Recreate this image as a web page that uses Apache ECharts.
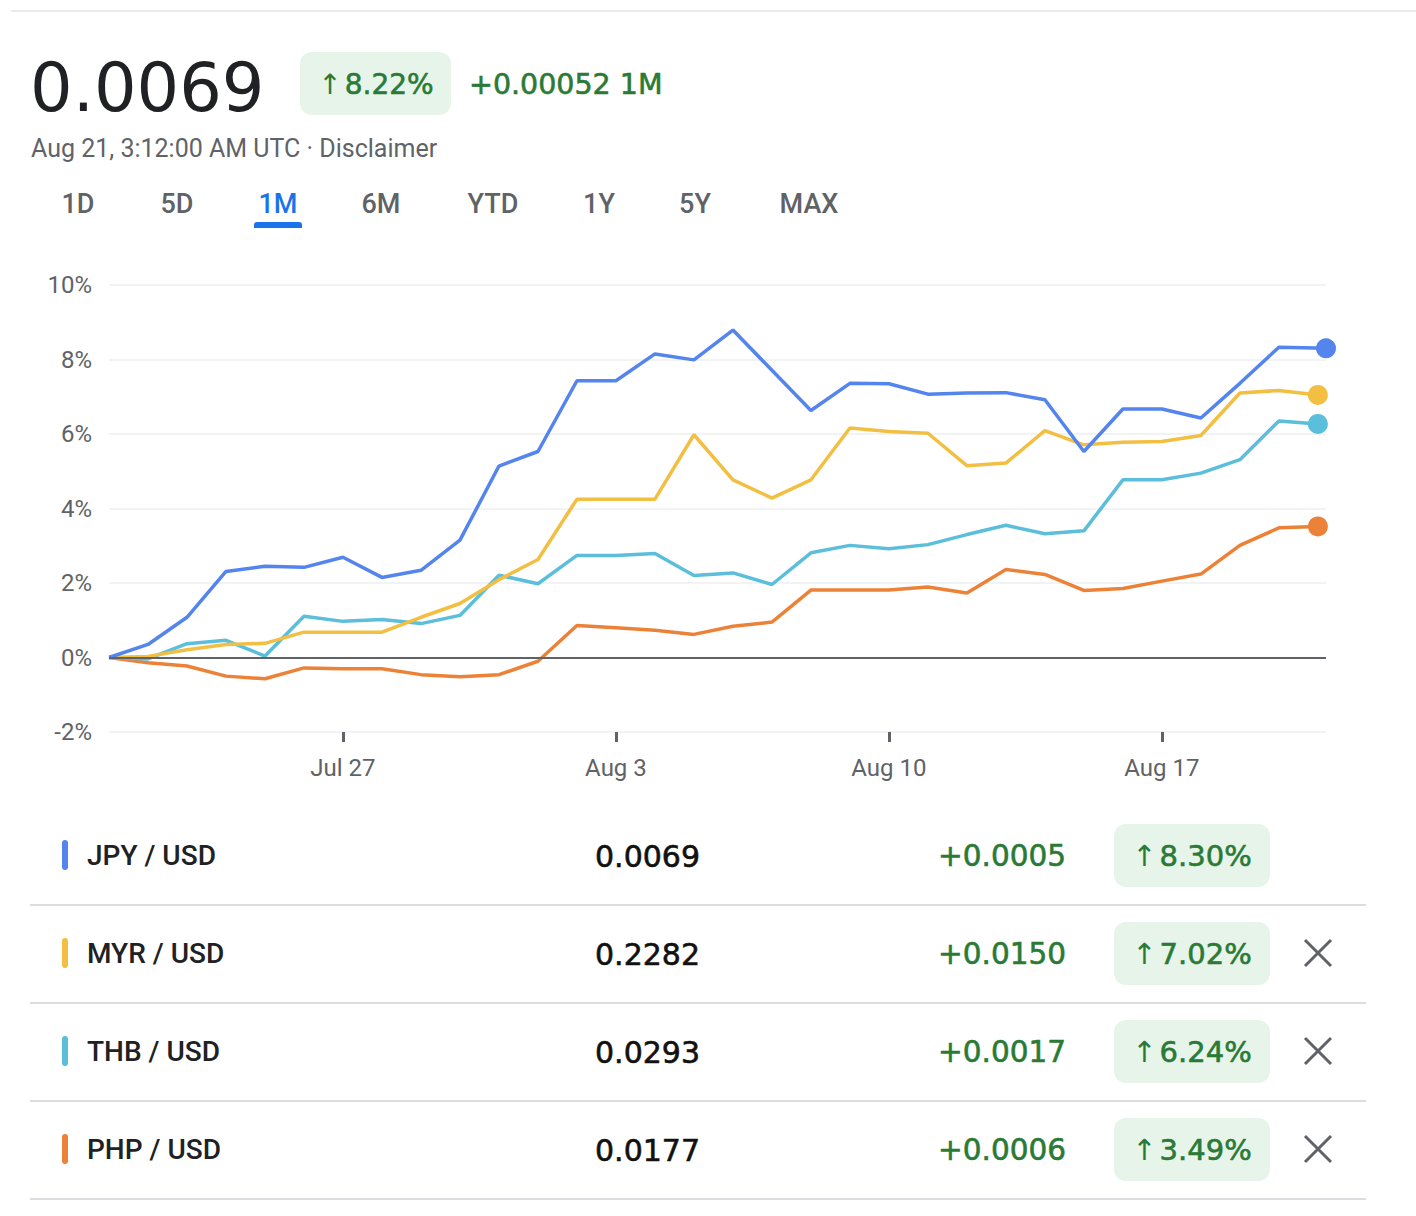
<!DOCTYPE html>
<html>
<head>
<meta charset="utf-8">
<title>JPY / USD</title>
<script src="https://cdn.jsdelivr.net/npm/echarts@6/dist/echarts.min.js"></script>
<style>
  html, body { margin: 0; padding: 0; background: #fff; }
  #main { width: 1416px; height: 1216px; }
</style>
</head>
<body>
<div id="main"></div>
<script>
// one point per day, Jul 21 -> Aug 21
const dates = [
  '2024-07-21', '2024-07-22', '2024-07-23', '2024-07-24', '2024-07-25', '2024-07-26',
  '2024-07-27', '2024-07-28', '2024-07-29', '2024-07-30', '2024-07-31', '2024-08-01',
  '2024-08-02', '2024-08-03', '2024-08-04', '2024-08-05', '2024-08-06', '2024-08-07',
  '2024-08-08', '2024-08-09', '2024-08-10', '2024-08-11', '2024-08-12', '2024-08-13',
  '2024-08-14', '2024-08-15', '2024-08-16', '2024-08-17', '2024-08-18', '2024-08-19',
  '2024-08-20', '2024-08-21'
];
// JPY has a later last quote than the others
const jpyLastTime = '2024-08-21T05:00:00Z';

const tickDates = ['2024-07-27', '2024-08-03', '2024-08-10', '2024-08-17'];
const tickLabels = ['Jul 27', 'Aug 3', 'Aug 10', 'Aug 17'];

// % change since Jul 21
const jpy = [0, 0.35, 1.08, 2.31, 2.45, 2.42, 2.69, 2.15, 2.34, 3.15, 5.14, 5.53, 7.43, 7.43, 8.15, 7.99,
  8.79, 7.71, 6.63, 7.36, 7.35, 7.07, 7.10, 7.11, 6.92, 5.53, 6.67, 6.67, 6.43, 7.36, 8.33, 8.30];
const myr = [0, 0.03, 0.21, 0.35, 0.38, 0.68, 0.68, 0.68, 1.08, 1.45, 2.09, 2.63, 4.25, 4.25, 4.25, 5.98,
  4.77, 4.28, 4.77, 6.16, 6.07, 6.02, 5.15, 5.22, 6.09, 5.71, 5.78, 5.80, 5.96, 7.10, 7.17, 7.05];
const thb = [0, -0.04, 0.37, 0.46, 0.04, 1.11, 0.97, 1.02, 0.91, 1.13, 2.21, 1.98, 2.74, 2.74, 2.79, 2.20,
  2.27, 1.96, 2.81, 3.01, 2.92, 3.03, 3.30, 3.55, 3.32, 3.40, 4.77, 4.77, 4.95, 5.31, 6.35, 6.27];
const php = [0, -0.14, -0.23, -0.50, -0.57, -0.28, -0.30, -0.30, -0.46, -0.52, -0.46, -0.10, 0.86, 0.80, 0.73, 0.62,
  0.84, 0.95, 1.81, 1.81, 1.81, 1.89, 1.73, 2.36, 2.23, 1.80, 1.85, 2.05, 2.24, 3.01, 3.48, 3.52];

const yTicks = [-2, 0, 2, 4, 6, 8, 10];

// table below the chart
const pairs = ['JPY / USD', 'MYR / USD', 'THB / USD', 'PHP / USD'];
const prices = ['0.0069', '0.2282', '0.0293', '0.0177'];
const changes = ['+0.0005', '+0.0150', '+0.0017', '+0.0006'];
const pcts = ['8.30%', '7.02%', '6.24%', '3.49%'];
const colors = ['#5484ed', '#f2bf42', '#5bbedb', '#ec8237'];

// header
const headPrice = '0.0069';
const headPct = '8.22%';
const headChange = '+0.00052 1M';
const headTime = 'Aug 21, 3:12:00 AM UTC · Disclaimer';
const ranges = ['1D', '5D', '1M', '6M', 'YTD', '1Y', '5Y', 'MAX'];
const activeRange = '1M';

const FONT = 'Roboto, "Noto Sans", sans-serif';
const NUM_FONT = '"DejaVu Sans", sans-serif'; // wide digits, closer to the original
const GREEN = '#2a7a36';
const GRAY = '#5f6368';

const t = s => new Date(s.length === 10 ? s + 'T00:00:00Z' : s).getTime();

function toPoints(values, lastTime) {
  return values.map((v, i) => {
    const time = (lastTime && i === values.length - 1) ? t(lastTime) : t(dates[i]);
    return [time, v];
  });
}

function lineSeries(name, values, color, lastTime) {
  const last = values.length - 1;
  return {
    name: name,
    type: 'line',
    data: toPoints(values, lastTime),
    symbol: 'circle',
    showSymbol: true,
    showAllSymbol: true,
    symbolSize: (val, p) => p.dataIndex === last ? 20 : 0,
    lineStyle: { color: color, width: 3.5 },
    itemStyle: { color: color },
    animation: false,
    silent: true
  };
}

function numText(x, y, text, size, fill, align) {
  return {
    type: 'text', x: x, y: y,
    style: {
      text: text, fontSize: size, fontFamily: NUM_FONT, fill: fill,
      stroke: fill, lineWidth: 0.6,
      align: align || 'left', verticalAlign: 'middle'
    }
  };
}

// green "↑ x.xx%" label, thin arrow + slightly bold number
function pctText(x, y, pct, size) {
  return {
    type: 'text', x: x, y: y,
    style: {
      text: '{a|↑}{b|' + pct + '}',
      align: 'center', verticalAlign: 'middle',
      rich: {
        a: { fontSize: size, fontFamily: NUM_FONT, fill: GREEN, padding: [0, 3, 0, 0] },
        b: { fontSize: size, fontFamily: NUM_FONT, fill: GREEN, stroke: GREEN, lineWidth: 0.6 }
      }
    }
  };
}

const chart = echarts.init(document.getElementById('main'), null, { renderer: 'svg' });

// --- header + table graphics ---
const graphic = [];
graphic.push({ type: 'rect', shape: { x: 11, y: 10, width: 1405, height: 2 }, style: { fill: '#e8eaed' } });
graphic.push({ type: 'text', x: 30, y: 88, style: { text: headPrice, fontSize: 67, fontFamily: NUM_FONT, fill: '#202124', verticalAlign: 'middle' } });
graphic.push({ type: 'rect', shape: { x: 300, y: 52, width: 151, height: 63, r: 12 }, style: { fill: '#e6f4ea' } });
graphic.push(pctText(376, 84, headPct, 28));
graphic.push(numText(469, 84, headChange, 28.5, GREEN));
graphic.push({ type: 'text', x: 31, y: 148, style: { text: headTime, fontSize: 25, fontFamily: FONT, fill: GRAY, verticalAlign: 'middle' } });

const tabX = [78, 177, 278, 381, 493, 599, 695, 809];
ranges.forEach((r, i) => {
  const on = r === activeRange;
  graphic.push({ type: 'text', x: tabX[i], y: 204, style: { text: r, fontSize: 27, fontWeight: 500, fontFamily: FONT, fill: on ? '#1a73e8' : GRAY, align: 'center', verticalAlign: 'middle' } });
  if (on) {
    graphic.push({ type: 'rect', shape: { x: tabX[i] - 24, y: 222, width: 48, height: 6, r: [3, 3, 0, 0] }, style: { fill: '#1a73e8' } });
  }
});

pairs.forEach((name, i) => {
  const cy = 855 + i * 98;
  graphic.push({ type: 'rect', shape: { x: 62, y: cy - 15, width: 6, height: 30, r: 3 }, style: { fill: colors[i] } });
  graphic.push({ type: 'text', x: 87, y: cy, style: { text: name, fontSize: 28, fontWeight: 500, fontFamily: FONT, fill: '#202124', verticalAlign: 'middle' } });
  graphic.push(numText(700, cy + 1, prices[i], 30, '#111', 'right'));
  graphic.push(numText(1066, cy + 1, changes[i], 29.5, GREEN, 'right'));
  graphic.push({ type: 'rect', shape: { x: 1114, y: cy - 31, width: 156, height: 63, r: 12 }, style: { fill: '#e6f4ea' } });
  graphic.push(pctText(1192, cy + 1, pcts[i], 29));
  if (i > 0) {
    graphic.push({ type: 'line', shape: { x1: 1305, y1: cy - 13, x2: 1331, y2: cy + 13 }, style: { stroke: GRAY, lineWidth: 3 } });
    graphic.push({ type: 'line', shape: { x1: 1331, y1: cy - 13, x2: 1305, y2: cy + 13 }, style: { stroke: GRAY, lineWidth: 3 } });
  }
  graphic.push({ type: 'rect', shape: { x: 30, y: cy + 49, width: 1336, height: 2 }, style: { fill: '#dadce0' } });
});

const series = [
  lineSeries('PHP / USD', php, colors[3]),
  lineSeries('THB / USD', thb, colors[2]),
  lineSeries('MYR / USD', myr, colors[1]),
  lineSeries('JPY / USD', jpy, colors[0], jpyLastTime)
];
// zero baseline
series[0].markLine = {
  silent: true,
  symbol: 'none',
  label: { show: false },
  lineStyle: { color: GRAY, width: 2, type: 'solid' },
  data: [{ yAxis: 0 }],
  animation: false
};

const tickTimes = tickDates.map(t);

chart.setOption({
  animation: false,
  textStyle: { fontFamily: FONT },
  grid: { left: 109, right: 90, top: 285, bottom: 484, containLabel: false },
  xAxis: {
    type: 'value',
    min: t(dates[0]),
    max: t(jpyLastTime),
    axisLine: { show: false, onZero: false },
    splitLine: { show: false },
    axisTick: {
      show: true,
      customValues: tickTimes,
      length: 10,
      lineStyle: { color: GRAY, width: 3 }
    },
    axisLabel: {
      customValues: tickTimes,
      formatter: v => tickLabels[tickTimes.indexOf(v)] || '',
      fontSize: 24,
      color: GRAY,
      margin: 24
    }
  },
  yAxis: {
    type: 'value',
    min: yTicks[0],
    max: yTicks[yTicks.length - 1],
    interval: 2,
    axisLine: { show: false },
    axisTick: { show: false },
    splitLine: { lineStyle: { color: '#f1f3f4', width: 2 } },
    axisLabel: { formatter: '{value}%', fontSize: 24, color: GRAY, margin: 17 }
  },
  graphic: graphic,
  series: series
});
</script>
</body>
</html>
